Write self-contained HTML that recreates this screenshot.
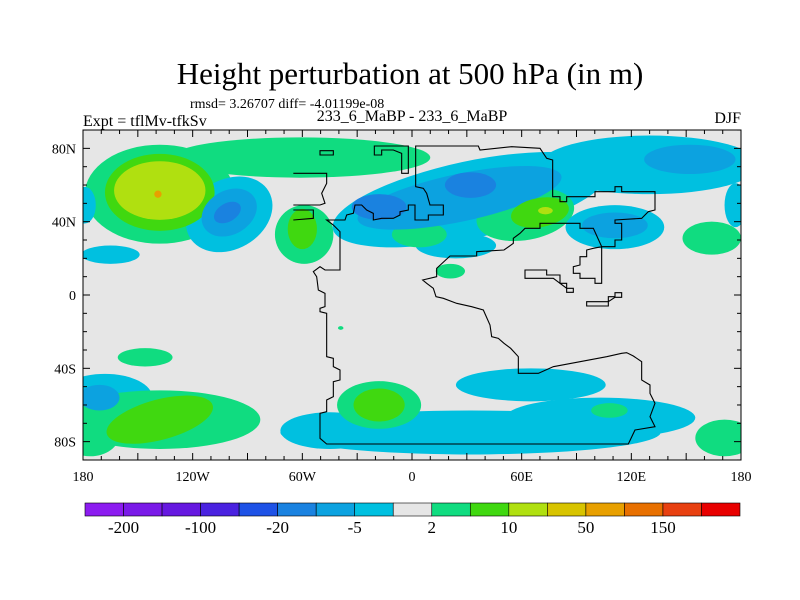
<!DOCTYPE html>
<html><head><meta charset="utf-8"><style>
body{margin:0;background:#fff}
svg{display:block;font-family:"Liberation Serif",serif}
</style></head><body>
<svg id="c" width="800" height="600" viewBox="0 0 800 600">
<text x="410" y="84" font-size="31" text-anchor="middle">Height perturbation at 500 hPa (in m)</text>
<text x="190" y="108" font-size="14">rmsd= 3.26707 diff= -4.01199e-08</text>
<text x="83" y="126" font-size="16">Expt = tflMv-tfkSv</text>
<text x="412" y="121" font-size="16" text-anchor="middle">233_6_MaBP - 233_6_MaBP</text>
<text x="741" y="123" font-size="16" text-anchor="end">DJF</text>
<defs><clipPath id="pc"><rect x="83" y="130" width="658" height="330"/></clipPath></defs>
<rect x="83" y="130" width="658" height="330" fill="#e6e6e6"/>
<g id="blobs" clip-path="url(#pc)"></g>
<g clip-path="url(#pc)"><g id="coast" transform="translate(300,140) scale(0.33333)"></g></g>
<rect x="83" y="130" width="658" height="330" fill="none" stroke="#000" stroke-width="1"/>
<g id="axes"></g>
<g id="cbar"></g>
</svg>
<script>
const palette=['#8c1cf0','#7a1ae8','#6618e0','#4a22e0','#1e52e6','#1a82e0','#0ca2e0','#00c0e0','#e6e6e6','#10dc80','#40d810','#b0e010','#d8c400','#e8a000','#e87000','#e84010','#e80000'];
const cbarLabels=['-200','-100','-20','-5','2','10','50','150'];
const xTicks=[-180,-120,-60,0,60,120,180];
const xTickLabels=['180','120W','60W','0','60E','120E','180'];
const yTicks=[80,40,0,-40,-80];
const yTickLabels=['80N','40N','0','40S','80S'];
// blobs: lon, lat, rx(deg), ry(deg), rotation, colour index
const blobLon=[-138,-61,-138,-138,-139,-100,-100,-101,-59,-60,32,26,32,-18,130,152,177,-179,62,70,73,111,111,24,4,164,-165,21,-146,-168,-171,-138,-176,-138,32,65,103,-45,-18,-18,108,171,-39];
const blobLat=[55,75,56,57,55,44,45,45,33,36,52,53,60,48,71,74,49,49,44,45,46,37,38,27,33,31,22,13,-34,-56,-56,-68,-76,-68,-75,-49,-67,-74,-60,-60,-63,-78,-18];
const blobRx=[41,71,30,25,2,25,16,8,16,8,77,57,14,15,60,25,6,6,27,16,4,27,18,22,15,16,16,8,15,26,11,55,16,30,104,41,52,27,23,14,10,16,1.5];
const blobRy=[27,11,21,16,2,19,12,5,16,11,21,13,7,7,16,8,12,10,14,8,2,12,7,7,7,9,5,4,5,13,7,16,12,11,12,9,11,10,13,9,4,10,1];
const blobRot=[0,0,0,0,0,-30,-30,-30,0,0,-12,-12,0,0,0,0,0,0,-10,-10,0,0,0,0,0,0,0,0,0,0,0,0,0,-15,0,0,0,0,0,0,0,0,0];
const blobCol=[9,9,10,11,13,7,6,5,9,10,7,6,5,5,7,6,7,7,9,10,11,7,6,7,9,9,7,9,9,7,6,9,9,10,7,7,7,7,9,10,9,9,9];
const NS='http://www.w3.org/2000/svg';
const X=lon=>83+(lon+180)*658/360;
const Y=lat=>295-lat*1.833;
const W=d=>d*658/360, H=d=>d*1.833;
function mk(t,a,p){const e=document.createElementNS(NS,t);for(const k in a)e.setAttribute(k,a[k]);p.appendChild(e);return e;}
const gb=document.getElementById('blobs');
const order=blobLon.map((_,i)=>i).sort((a,b)=>Math.abs(blobCol[a]-8)-Math.abs(blobCol[b]-8)||a-b);
order.forEach(i=>{
 const cx=X(blobLon[i]),cy=Y(blobLat[i]);
 const e=mk('ellipse',{cx:cx,cy:cy,rx:W(blobRx[i]),ry:H(blobRy[i]),fill:palette[blobCol[i]],transform:`rotate(${blobRot[i]} ${cx} ${cy})`},gb);
 
 
});
const coastPaths=[
"M80,912 L985,912 L1005,870 L1065,860 L1050,830 L1065,790 L1050,760 L1050,735 L1025,720 L1025,665 L1000,648 L980,638 L965,640 L920,650 L840,665 L760,680 L715,700 L655,700 L655,650 L632,625 L612,610 L595,595 L575,590 L570,555 L550,510 L515,500 L470,490 L430,475 L408,470 L400,445 L380,430 L368,420 L410,410 L410,385 L450,348 L530,348 L530,335 L612,330 L640,310 L640,295 L660,280 L675,265 L720,265 L720,250 L840,250 L840,265 L880,265 L905,320 L905,430 L885,430 L885,415 L840,415 L840,400 L820,400 L820,380 L840,375 L840,350 L860,350 L860,330 L880,325 L905,320 L945,320 L945,300 L965,300 L965,250 L945,250 L945,240 L1025,235 L1045,215 L1065,210 L1065,155 L965,155 L965,140 L945,140 L945,155 L885,155 L885,170 L800,170 L800,185 L780,185 L780,170 L758,170 L758,60 L740,55 L720,25 L635,20 L540,30 L535,18 L347,18 L347,140 L370,145 L380,160 L390,195 L430,195 L430,225 L385,225 L385,240 L345,240 L345,195 L325,195 L325,210 L300,215 L300,225 L280,235 L245,235 L220,240 L220,220 L200,210 L185,195 L165,195 L160,220 L140,225 L135,240 L80,240 L100,255 L120,275 L120,390 L75,390 L60,380 L40,395 L50,410 L55,450 L75,460 L75,500 L60,505 L60,515 L80,520 L80,650 L100,655 L100,680 L120,690 L120,720 L100,725 L100,770 L80,780 L80,815 L60,820 L60,895 Z",
"M223,18 L325,18 L325,100 L305,100 L305,40 L280,30 L245,30 L245,45 L223,45 Z",
"M60,32 L100,32 L100,45 L60,45 Z",
"M-20,100 L80,100 L80,130 L65,160 L75,190 L60,195 L-20,195",
"M-20,210 L40,210 L40,235 L-20,240",
"M675,390 L740,390 L740,405 L780,405 L780,430 L800,430 L800,445 L820,445 L820,457 L800,457 L800,445 L780,430 L760,415 L675,415 Z",
"M860,485 L925,485 L925,470 L945,470 L945,458 L965,458 L965,472 L945,472 L925,485 L925,498 L860,498 Z"];
const gc=document.getElementById('coast');
coastPaths.forEach(d=>{const p=mk('path',{d:d,fill:'none',stroke:'#000','stroke-width':1.1,'vector-effect':'non-scaling-stroke'},gc);
 
 });
const ga=document.getElementById('axes');
for(let lon=-180;lon<=180;lon+=10){const x=X(lon),L=lon%30===0?7:4;
 mk('line',{x1:x,y1:460,x2:x,y2:460-L,stroke:'#000'},ga);mk('line',{x1:x,y1:130,x2:x,y2:130+L,stroke:'#000'},ga);}
for(let lat=-90;lat<=90;lat+=10){const y=Y(lat),L=lat%40===0?7:4;
 mk('line',{x1:83,y1:y,x2:83+L,y2:y,stroke:'#000'},ga);mk('line',{x1:741,y1:y,x2:741-L,y2:y,stroke:'#000'},ga);}
xTicks.forEach((v,i)=>{const t=mk('text',{x:X(v),y:481,'font-size':14,'text-anchor':'middle'},ga);t.textContent=xTickLabels[i];
 
 });
yTicks.forEach((v,i)=>{const t=mk('text',{x:76,y:Y(v)+5,'font-size':14,'text-anchor':'end'},ga);t.textContent=yTickLabels[i];
 
 });
const gcb=document.getElementById('cbar');const bw=(740-85)/palette.length;
palette.forEach((c,i)=>{const r=mk('rect',{x:85+i*bw,y:503,width:bw,height:13,fill:c,stroke:'#000','stroke-width':0.6},gcb);
 
 });
cbarLabels.forEach((s,i)=>{const t=mk('text',{x:85+(1+2*i)*bw,y:533,'font-size':17,'text-anchor':'middle'},gcb);t.textContent=s;
 
 });
</script>
</body></html>
